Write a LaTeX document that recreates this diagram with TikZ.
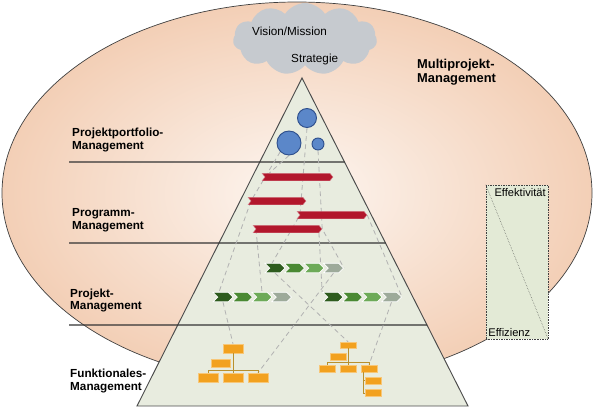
\documentclass[tikz,border=0pt]{standalone}
\usepackage{fontspec}
\setmainfont{Liberation Sans}
\usetikzlibrary{shapes.symbols,calc,positioning}

\definecolor{peach}{HTML}{F3CFB6}
\definecolor{peachlight}{HTML}{FDF6F1}
\definecolor{pyrfill}{HTML}{E8ECDF}
\definecolor{cloudgray}{HTML}{C6CACF}
\definecolor{circblue}{HTML}{5B87C9}
\definecolor{circedge}{HTML}{2E4F8C}
\definecolor{barred}{HTML}{B2172C}
\definecolor{gA}{HTML}{2E5C1E}
\definecolor{gB}{HTML}{4A8933}
\definecolor{gC}{HTML}{6DAA58}
\definecolor{gD}{HTML}{9DAA9A}
\definecolor{orgorange}{HTML}{F2A11F}
\definecolor{orgline}{HTML}{B8902E}
\definecolor{boxgreen}{HTML}{E3EAD6}

\pgfdeclarelayer{bg}
\pgfdeclarelayer{links}
\pgfsetlayers{bg,links,main}

\newcommand{\px}{0.03cm}

\tikzset{
  levellabel/.style={font=\bfseries\fontsize{10}{11}\selectfont, align=left, anchor=west, inner sep=0pt},
  cloudtext/.style={font=\fontsize{10}{11}\selectfont, anchor=west, inner sep=0pt},
  portfolio/.style={circle, fill=circblue, draw=circedge, line width=0.8pt, inner sep=0pt},
  progbar/.style={signal, signal to=east, signal from=west, fill=barred, draw=barred!55!white,
    line width=0.3pt, minimum height=7.5*\px, inner sep=0pt, signal pointer angle=100},
  chevron/.style={signal, signal to=east, signal from=west, draw=white, line width=0.6pt,
    minimum width=20*\px, minimum height=9.5*\px, inner sep=0pt, signal pointer angle=90},
  orgbox/.style={rectangle, fill=orgorange, draw=orgorange!60!white, line width=0.4pt, inner sep=0pt,
    minimum width=16*\px, minimum height=7*\px},
  bigorg/.style={orgbox, minimum width=20*\px, minimum height=9*\px},
  orgwire/.style={orgline, line width=0.8pt},
  trace/.style={gray!60, dash pattern=on 4pt off 3pt, line width=0.7pt},
  level/.style={black!80, line width=0.9pt},
  ratiotext/.style={font=\fontsize{9.5}{11}\selectfont, inner sep=2pt},
}

\begin{document}
\begin{tikzpicture}[x=\px, y=-\px]
\useasboundingbox (0,0) rectangle (595,409);

% portfolio circles
\node[portfolio, minimum size=19*\px] (pc1) at (307,118) {};
\node[portfolio, minimum size=24*\px] (pc2) at (289,143) {};
\node[portfolio, minimum size=12*\px] (pc3) at (318,144) {};

% programmes
\node[progbar, minimum width=71*\px] (b1) at (297.5,177) {};
\node[progbar, minimum width=58*\px] (b2) at (277,201) {};
\node[progbar, minimum width=70*\px] (b3) at (332,215) {};
\node[progbar, minimum width=69*\px] (b4) at (287.5,229) {};

% projects
\foreach \row/\xs/\yy in {p1/265/268, p2/213/297, p3/323/297}
  \foreach \col [count=\i] in {gA,gB,gC,gD}
    \node[chevron, fill=\col] (\row-\i) at ({\xs+10+(\i-1)*19.5},\yy) {};

% line organisation, left
\node[bigorg] (o1t) at (233,348.5) {};
\node[bigorg, minimum width=19*\px, minimum height=8*\px] (o1m) at (220.5,363) {};
\foreach \n/\xx in {o1a/208, o1b/233, o1c/258}
  \node[bigorg] (\n) at (\xx,377.5) {};
\draw[orgwire] (o1t.south) -- (o1b.north);
\draw[orgwire] (o1a.north) -- ++(0,-2) -| (o1c.north);

% line organisation, right
\node[orgbox, minimum height=6*\px] (o2t) at (348,345) {};
\node[orgbox] (o2m) at (338,356.5) {};
\foreach \n/\xx in {o2a/327, o2b/348, o2c/369}
  \node[orgbox] (\n) at (\xx,368.5) {};
\node[orgbox] (o2d) at (373,380.5) {};
\node[orgbox] (o2e) at (373,393) {};
\draw[orgwire] (o2t.south) -- (o2b.north);
\draw[orgwire] (o2a.north) -- ++(0,-2) -| (o2c.north);
\draw[orgwire] ([xshift=-6*\px]o2c.south) |- (o2e.west);
\draw[orgwire] ([xshift=-6*\px]o2c.south) |- (o2d.west);

% effectiveness / efficiency
\node[draw=black!75, densely dotted, fill=boxgreen, minimum width=62*\px, minimum height=154*\px,
  inner sep=0pt] (eff) at (517,262) {};
\draw[densely dotted, black!75] (eff.north west) -- (eff.south east);
\node[ratiotext, anchor=north east] (effk) at ([yshift=-1pt]eff.north east) {Effektivität};
\node[ratiotext, anchor=south west] (effz) at (eff.south west) {Effizienz};

% level labels
\node[levellabel] (lpp) at (72,140) {Projektportfolio-\\Management};
\node[levellabel] (lpg) at (72,220) {Programm-\\Management};
\node[levellabel] (lpj) at (70,300.5) {Projekt-\\Management};
\node[levellabel] (lfn) at (70,381) {Funktionales-\\Management};
\node[levellabel, font=\bfseries\fontsize{11}{12}\selectfont] (lmp) at (417,72.5) {Multiprojekt-\\Management};

\begin{pgfonlayer}{bg}
  \shade[inner color=peachlight, outer color=peach, draw=black!75, line width=0.6pt]
    (297,193) ellipse [x radius=295*\px, y radius=191*\px];
  \node[cloud, cloud puffs=11, cloud puff arc=115, aspect=2.2, fill=cloudgray, draw=none,
    minimum width=144*\px, minimum height=72*\px, inner sep=0pt] (cld) at (305,39) {};
  \node[cloudtext] (vis) at (252,31) {Vision/Mission};
  \node[cloudtext] (str) at (291,59) {Strategie};
  % pyramid
  \coordinate (apex) at (302,78);
  \coordinate (bl) at (137,406);
  \coordinate (br) at (468,406);
  \draw[fill=pyrfill, draw=black!70, line width=0.8pt] (apex) -- (bl) -- (br) -- cycle;
  \foreach \f/\yy in {0.256/162, 0.503/243, 0.753/325}
    \draw[level] (69,\yy) -- ($(apex)!\f!(br)$);
\end{pgfonlayer}

\begin{pgfonlayer}{links}
  \draw[trace] (pc2.south west) -- (b2.west) -- (p2-1.west);
  \draw[trace] (pc2.south) -- (b1.west);
  \draw[trace] (pc1.south) -- (b3.west) -- (p1-1.west);
  \draw[trace] (pc3.south) -- (b4.east) -- (p1-4.east);
  \draw[trace] (b3.east) -- (p3-4.east);
  \draw[trace] (b4.west) -- (p2-3.north);
  \draw[trace] (b4.south east) -- (p3-1.north west);
  \draw[trace] (p1-1.south) -- (o2t.north);
  \draw[trace] (p1-4.south) -- (o1c.north);
  \draw[trace] (p2-1.south) -- (o1t.north);
  \draw[trace] (p3-4.south) -- (o2c.north);
\end{pgfonlayer}
\end{tikzpicture}
\end{document}
